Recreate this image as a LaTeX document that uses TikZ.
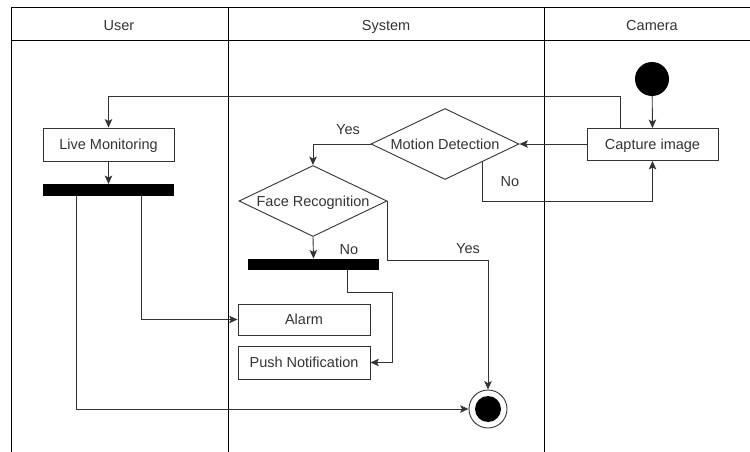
\documentclass[tikz,border=0pt]{standalone}
\usepackage{fontspec}
\setmainfont{Liberation Sans}
\usetikzlibrary{shapes.geometric,arrows.meta}
\definecolor{ink}{HTML}{333333}
\tikzset{
  every node/.style={font=\fontsize{14.5}{16}\selectfont, text=ink},
  wire/.style={draw=ink, line width=0.9pt},
  arr/.style={wire, -{Stealth[length=8.5pt,width=7.5pt,inset=2pt]}},
  act/.style={draw=ink, line width=0.9pt, rectangle, inner sep=0pt, text height=11pt, text depth=0.5pt, minimum width=131pt, minimum height=32pt},
  decide/.style={draw=ink, line width=0.9pt, diamond, shape aspect=2, inner sep=0pt, text height=11pt, text depth=0.5pt, minimum width=148pt, minimum height=71pt},
  forkbar/.style={fill=black, draw=none, rectangle, inner sep=0pt, minimum width=131pt, minimum height=11.5pt},
  lane/.style={draw=black, line width=1pt},
  lbl/.style={inner sep=0pt, text height=11pt, text depth=0.5pt}
}
\begin{document}
\begin{tikzpicture}[x=1pt,y=-1pt]
\useasboundingbox (0,0) rectangle (750,452);

% swimlane frame
\draw[lane] (11,8) -- (750,8);
\draw[lane] (11,41) -- (750,41);
\draw[lane] (11,8) -- (11,452);
\draw[lane] (228,8) -- (228,452);
\draw[lane] (544,8) -- (544,452);
\node[lbl] (hUser) at (119,25) {User};
\node[lbl] (hSys) at (386,25) {System};
\node[lbl] (hCam) at (652,25) {Camera};

% activity nodes
\node[circle, fill=black, inner sep=0pt, minimum size=34pt] (start) at (652,79) {};
\node[act] (cap) at (652.5,144.5) {Capture image};
\node[decide] (md) at (445,144) {Motion Detection};
\node[decide] (fr) at (313,201) {Face Recognition};
\node[act, minimum height=33pt] (lm) at (108.5,144.5) {Live Monitoring};
\node[forkbar] (bar1) at (108.5,190) {};
\node[forkbar] (bar2) at (313.5,264.5) {};
\node[act, minimum width=132pt, minimum height=31pt] (alarm) at (304,319.5) {Alarm};
\node[act, minimum width=132pt, minimum height=33pt] (push) at (304,362.5) {Push Notification};
\node[circle, draw=ink, line width=0.9pt, fill=white, inner sep=0pt, minimum size=38pt] (final) at (488,409) {};
\node[circle, fill=black, inner sep=0pt, minimum size=26pt] (finaldot) at (final) {};

% bend points
\coordinate (c1) at (620,96);
\coordinate (c2) at (483,201);
\coordinate (c3) at (0,260);
\coordinate (c4) at (76,0);
\coordinate (c5) at (141,0);
\coordinate (c6) at (347,292);
\coordinate (c7) at (392,0);

% connectors
\draw[arr] (start) -- (cap.north);
\draw[arr] (cap.west |- md.east) -- (md.east);
\draw[arr] (c1 |- cap.north) -- (c1) -| (lm.north);
\draw[arr] (md.west) -| (fr.north);
\draw[arr] (md.south east) -- (md.south east |- c2) -| (cap.south);
\draw[arr] (fr.south) -- (bar2.north);
\draw[arr] (fr.east) -- (fr.east |- c3) -| (final.north);
\draw[arr] (lm.south) -- (bar1.north);
\draw[arr] (bar1.south -| c4) |- (final.west);
\draw[arr] (bar1.south -| c5) |- (alarm.west);
\draw[arr] (bar2.south -| c6) -- (c6) -| (c7 |- push.east) -- (push.east);

% guard labels
\node[lbl] (yes1) at (348,129) {Yes};
\node[lbl] (no1) at (510,181) {No};
\node[lbl] (no2) at (349,249) {No};
\node[lbl] (yes2) at (468,248) {Yes};
\end{tikzpicture}
\end{document}
